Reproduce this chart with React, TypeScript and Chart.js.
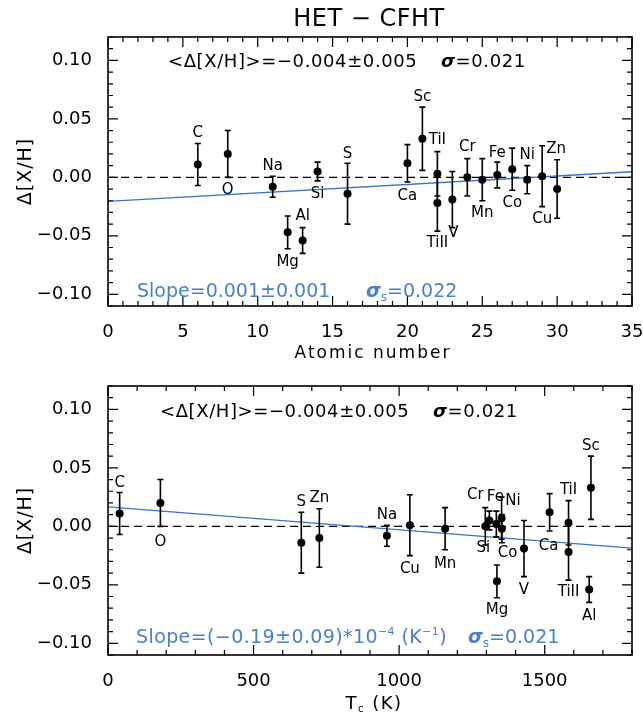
import React, { useEffect, useRef } from 'react';
import { Chart, registerables } from 'chart.js';

Chart.register(...registerables);

// ---------------- data ----------------
const elements = ['C', 'O', 'Na', 'Mg', 'Al', 'Si', 'S', 'Ca', 'Sc', 'TiI', 'TiII', 'V', 'Cr', 'Mn', 'Fe', 'Co', 'Ni', 'Cu', 'Zn'];
const atomicNumber = [6, 8, 11, 12, 13, 14, 16, 20, 21, 22, 22, 23, 24, 25, 26, 27, 28, 29, 30];
const condensationT = [40, 180, 958, 1336, 1653, 1310, 664, 1517, 1659, 1582, 1582, 1429, 1296, 1158, 1334, 1352, 1353, 1037, 726];
const deltaXH = [0.011, 0.020, -0.008, -0.047, -0.054, 0.005, -0.014, 0.012, 0.033, 0.003, -0.022, -0.019, 0.000, -0.002, 0.002, 0.007, -0.002, 0.001, -0.010];
const deltaErr = [0.018, 0.020, 0.009, 0.014, 0.011, 0.008, 0.026, 0.016, 0.027, 0.019, 0.024, 0.024, 0.016, 0.018, 0.011, 0.018, 0.012, 0.026, 0.025];

const zTicks = [0, 5, 10, 15, 20, 25, 30, 35];
const tcTicks = [0, 500, 1000, 1500];
const yTicks = [-0.10, -0.05, 0.00, 0.05, 0.10];

const fitZX = [0, 35];
const fitZY = [-0.0205, 0.0048];
const fitTX = [0, 1800];
const fitTY = [0.0166, -0.0186];

// label placement offsets (pixels from the point)
const labelOffsetZ = [
  [0, -31], [0, 36], [0, -21], [0, 30], [0, -24], [0, 23], [0, -40], [0, 33], [0, -42], [0, -34],
  [0, 40], [1, 34], [0, -30], [0, 33], [0, -22], [0, 34], [0, -25], [0, 43], [-1, -40],
];
const labelOffsetT = [
  [0, -30], [0, 39], [0, -21], [0, 29], [0, 27], [-6, 28], [0, -41], [-1, 34], [0, -42], [0, -33],
  [0, 40], [0, 42], [-10, -31], [0, 35], [-1, -27], [6, 35], [11, -28], [0, 44], [0, -40],
];

const FONT = '"DejaVu Sans", sans-serif';
const BLUE_TEXT = '#4a7fc9';
const BLUE_LINE = '#3b72c2';

type Run = { t: string; size: number; style?: string; dy?: number };

function setFont(ctx: any, r: Run, sp: number) {
  ctx.font = `${r.style ?? ''} ${r.size}px ${FONT}`;
  ctx.letterSpacing = `${sp}px`;
}
function runsWidth(ctx: any, runs: Run[], sp: number) {
  let w = 0;
  for (const r of runs) {
    setFont(ctx, r, sp);
    w += ctx.measureText(r.t).width;
  }
  return w;
}
function drawRuns(ctx: any, x: number, y: number, runs: Run[], sp: number, color: string, align = 'left') {
  ctx.save();
  ctx.fillStyle = color;
  ctx.textAlign = 'left';
  ctx.textBaseline = 'alphabetic';
  let cx = x;
  if (align === 'center') cx = x - runsWidth(ctx, runs, sp) / 2;
  for (const r of runs) {
    setFont(ctx, r, sp);
    ctx.fillText(r.t, cx, y + (r.dy ?? 0));
    cx += ctx.measureText(r.t).width;
  }
  ctx.restore();
}

interface PanelSpec {
  height: number;
  plotBottom: number;
  xs: number[];
  xMin: number;
  xMax: number;
  xMajor: number[];
  xMinorStep: number;
  fitX: number[];
  fitY: number[];
  offsets: number[][];
  drawText: (ctx: any, chart: any) => void;
}

const Y_MIN = -0.11;
const Y_MAX = 0.12;

function panelPlugin(spec: PanelSpec) {
  return {
    id: 'panelExtras',
    beforeDatasetDraw(chart: any, args: any) {
      if (args.index !== 0) return;
      const { ctx } = chart;
      const x = chart.scales.x;
      const y = chart.scales.y;
      ctx.save();
      ctx.strokeStyle = '#000';
      ctx.lineWidth = 1.6;
      for (let i = 0; i < spec.xs.length; i++) {
        const px = x.getPixelForValue(spec.xs[i]);
        const t = y.getPixelForValue(deltaXH[i] + deltaErr[i]);
        const b = y.getPixelForValue(deltaXH[i] - deltaErr[i]);
        ctx.beginPath();
        ctx.moveTo(px, t);
        ctx.lineTo(px, b);
        ctx.moveTo(px - 3, t);
        ctx.lineTo(px + 3, t);
        ctx.moveTo(px - 3, b);
        ctx.lineTo(px + 3, b);
        ctx.stroke();
      }
      ctx.restore();
    },
    afterDraw(chart: any) {
      const { ctx, chartArea } = chart;
      const { left, right, top, bottom } = chartArea;
      const x = chart.scales.x;
      const y = chart.scales.y;
      ctx.save();
      ctx.strokeStyle = '#000';
      ctx.lineWidth = 1.6;
      ctx.strokeRect(left, top, right - left, bottom - top);
      ctx.lineWidth = 1.2;
      ctx.beginPath();
      // x ticks
      const nX = Math.round((spec.xMax - spec.xMin) / spec.xMinorStep);
      for (let k = 0; k <= nX; k++) {
        const v = spec.xMin + k * spec.xMinorStep;
        const major = spec.xMajor.some((m) => Math.abs(m - v) < 1e-9);
        const len = major ? 10 : 5;
        const px = x.getPixelForValue(v);
        ctx.moveTo(px, bottom);
        ctx.lineTo(px, bottom - len);
        ctx.moveTo(px, top);
        ctx.lineTo(px, top + len);
      }
      // y ticks
      for (let k = Math.round(Y_MIN * 100); k <= Math.round(Y_MAX * 100); k++) {
        const v = k / 100;
        const major = k % 5 === 0;
        const len = major ? 10 : 5;
        const py = y.getPixelForValue(v);
        ctx.moveTo(left, py);
        ctx.lineTo(left + len, py);
        ctx.moveTo(right, py);
        ctx.lineTo(right - len, py);
      }
      ctx.stroke();

      // element labels
      ctx.fillStyle = '#000';
      ctx.font = `15px ${FONT}`;
      ctx.textAlign = 'center';
      ctx.textBaseline = 'middle';
      for (let i = 0; i < spec.xs.length; i++) {
        const px = x.getPixelForValue(spec.xs[i]);
        const py = y.getPixelForValue(deltaXH[i]);
        ctx.fillText(elements[i], px + spec.offsets[i][0], py + spec.offsets[i][1]);
      }

      // y axis title
      ctx.save();
      ctx.translate(31, (top + bottom) / 2);
      ctx.rotate(-Math.PI / 2);
      drawRuns(ctx, 0, 0, [{ t: 'Δ[X/H]', size: 19 }], 1, '#000', 'center');
      ctx.restore();

      spec.drawText(ctx, chart);
      ctx.restore();
    },
  };
}

function makeChart(canvas: HTMLCanvasElement, spec: PanelSpec) {
  const H = spec.height;
  return new Chart(canvas, {
    type: 'scatter',
    data: {
      datasets: [
        {
          data: spec.xs.map((v, i) => ({ x: v, y: deltaXH[i] })),
          pointRadius: 4,
          pointBackgroundColor: '#000',
          pointBorderWidth: 0,
          showLine: false,
        },
        {
          data: spec.fitX.map((v, i) => ({ x: v, y: spec.fitY[i] })),
          showLine: true,
          borderColor: BLUE_LINE,
          borderWidth: 1.3,
          pointRadius: 0,
        },
        {
          data: [
            { x: spec.xMin, y: 0 },
            { x: spec.xMax, y: 0 },
          ],
          showLine: true,
          borderColor: '#000',
          borderWidth: 1.3,
          borderDash: [8, 5],
          pointRadius: 0,
        },
      ],
    } as any,
    options: {
      responsive: false,
      animation: false,
      events: [],
      layout: { padding: { top: 37, right: 11, left: 0, bottom: 0 } },
      plugins: { legend: { display: false }, tooltip: { enabled: false }, title: { display: false } },
      scales: {
        x: {
          type: 'linear',
          min: spec.xMin,
          max: spec.xMax,
          grid: { display: false },
          border: { display: false },
          afterBuildTicks: (s: any) => {
            s.ticks = spec.xMajor.map((v) => ({ value: v }));
          },
          afterFit: (s: any) => {
            s.height = H - spec.plotBottom;
            s.paddingLeft = 0;
            s.paddingRight = 0;
          },
          ticks: {
            font: { family: FONT, size: 18 },
            color: '#000',
            padding: 8,
            autoSkip: false,
            maxRotation: 0,
            callback: (v: any) => String(v),
          },
        },
        y: {
          type: 'linear',
          min: Y_MIN,
          max: Y_MAX,
          grid: { display: false },
          border: { display: false },
          afterBuildTicks: (s: any) => {
            s.ticks = yTicks.map((v) => ({ value: v }));
          },
          afterFit: (s: any) => {
            s.width = 108;
            s.paddingTop = 0;
            s.paddingBottom = 0;
          },
          ticks: {
            font: { family: FONT, size: 18 },
            color: '#000',
            padding: 8,
            autoSkip: false,
            callback: (v: any) => (v < 0 ? '−' : '') + Math.abs(v).toFixed(2),
          },
        },
      },
    } as any,
    plugins: [panelPlugin(spec)],
  });
}

const TOP_H = 368;
const BOT_TOP = 349;
const BOT_H = 714 - BOT_TOP;
const PLOT_BOTTOM = 306;

export default function App() {
  const topRef = useRef<HTMLCanvasElement>(null);
  const botRef = useRef<HTMLCanvasElement>(null);

  useEffect(() => {
    const topSpec: PanelSpec = {
      height: TOP_H,
      plotBottom: PLOT_BOTTOM,
      xs: atomicNumber,
      xMin: 0,
      xMax: 35,
      xMajor: zTicks,
      xMinorStep: 1,
      fitX: fitZX,
      fitY: fitZY,
      offsets: labelOffsetZ,
      drawText: (ctx) => {
        drawRuns(ctx, 369, 26, [{ t: 'HET − CFHT', size: 24 }], 0.5, '#000', 'center');
        drawRuns(ctx, 168, 66.5, [{ t: '<Δ[X/H]>=−0.004±0.005', size: 18 }], 0.6, '#000');
        drawRuns(ctx, 441, 66.5, [{ t: 'σ', size: 18, style: 'italic bold' }, { t: '=0.021', size: 18 }], 0.6, '#000');
        drawRuns(ctx, 137, 297, [{ t: 'Slope=0.001±0.001', size: 19 }], 0, BLUE_TEXT);
        drawRuns(
          ctx,
          366,
          297,
          [
            { t: 'σ', size: 19, style: 'italic bold' },
            { t: 's', size: 12, dy: 4 },
            { t: '=0.022', size: 19 },
          ],
          0,
          BLUE_TEXT
        );
        drawRuns(ctx, 373, 358, [{ t: 'Atomic number', size: 17 }], 2, '#000', 'center');
      },
    };
    const botSpec: PanelSpec = {
      height: BOT_H,
      plotBottom: PLOT_BOTTOM,
      xs: condensationT,
      xMin: 0,
      xMax: 1800,
      xMajor: tcTicks,
      xMinorStep: 100,
      fitX: fitTX,
      fitY: fitTY,
      offsets: labelOffsetT,
      drawText: (ctx) => {
        drawRuns(ctx, 160, 67.5, [{ t: '<Δ[X/H]>=−0.004±0.005', size: 18 }], 0.6, '#000');
        drawRuns(ctx, 433, 67.5, [{ t: 'σ', size: 18, style: 'italic bold' }, { t: '=0.021', size: 18 }], 0.6, '#000');
        drawRuns(
          ctx,
          136,
          294,
          [
            { t: 'Slope=(−0.19±0.09)*10', size: 19 },
            { t: '−4', size: 11, dy: -8 },
            { t: ' (K', size: 19 },
            { t: '−1', size: 11, dy: -8 },
            { t: ')', size: 19 },
          ],
          0.4,
          BLUE_TEXT
        );
        drawRuns(
          ctx,
          468,
          294,
          [
            { t: 'σ', size: 19, style: 'italic bold' },
            { t: 's', size: 12, dy: 4 },
            { t: '=0.021', size: 19 },
          ],
          0,
          BLUE_TEXT
        );
        drawRuns(
          ctx,
          374,
          360,
          [
            { t: 'T', size: 18 },
            { t: 'c', size: 10, dy: 3 },
            { t: ' (K)', size: 18 },
          ],
          1.5,
          '#000',
          'center'
        );
      },
    };
    const c1 = makeChart(topRef.current!, topSpec);
    const c2 = makeChart(botRef.current!, botSpec);
    return () => {
      c1.destroy();
      c2.destroy();
    };
  }, []);

  return (
    <div style={{ position: 'fixed', left: 0, top: 0, width: 643, height: 714, background: '#fff' }}>
      <canvas ref={topRef} width={643} height={TOP_H} style={{ position: 'absolute', left: 0, top: 0 }} />
      <canvas ref={botRef} width={643} height={BOT_H} style={{ position: 'absolute', left: 0, top: BOT_TOP }} />
    </div>
  );
}
